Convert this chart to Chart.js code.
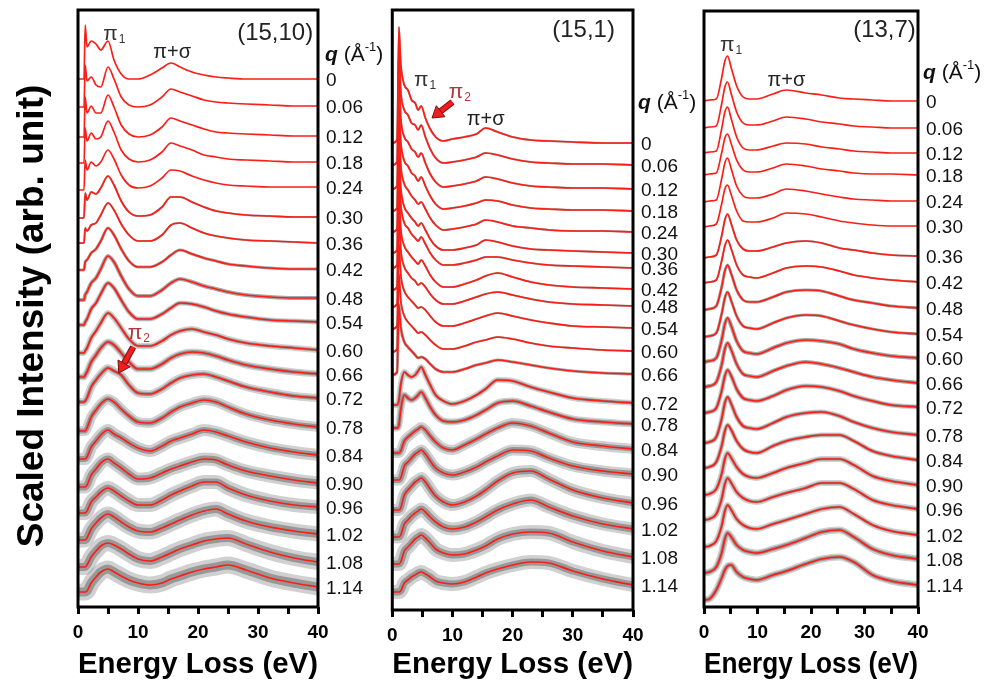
<!DOCTYPE html>
<html>
<head>
<meta charset="utf-8">
<script src="https://cdn.jsdelivr.net/npm/chart.js@4.4.0/dist/chart.umd.min.js"></script>
<style>
  body { margin: 0; background: #fff; width: 992px; height: 686px; overflow: hidden; position: relative; }
  canvas { position: absolute; top: 0; }
</style>
</head>
<body>
<canvas id="p1" width="390" height="686" style="left:0"></canvas>
<canvas id="p2" width="320" height="686" style="left:380px"></canvas>
<canvas id="p3" width="302" height="686" style="left:690px"></canvas>
<script>
// momentum transfer of each spectrum, top to bottom
const qLabels = ['0', '0.06', '0.12', '0.18', '0.24', '0.30', '0.36', '0.42', '0.48', '0.54',
                 '0.60', '0.66', '0.72', '0.78', '0.84', '0.90', '0.96', '1.02', '1.08', '1.14'];
const xTicks = [0, 10, 20, 30, 40];

// ---- (15,10) ----
const energy1 = [0, 1.0, 1.2, 1.5, 2.2, 3.0, 3.8, 5.0, 6.0, 7.2, 8.5, 10, 12, 14, 15.5, 17, 19, 21, 23, 25, 28, 32, 36, 40];
const offset1 = [528, 500, 470, 444, 417, 389, 364, 337, 307, 282, 254, 230, 205, 176, 148, 120, 94, 67, 40, 15];
const spectra1 = [
  [0,0,54,32,38,35,29,38,19,5,0,0,4,11,16,12,7,4,2,1,0,0,0,0],
  [0,0,42,26,30,22,20,40,28,10,2,0,2,10,18,15,11,7,5,4,3,2,1,1],
  [0,0,40,24,31,24,24,42,30,12,3,0,2,10,19,16,12,8,5,4,3,2,1,1],
  [0,0,35,22,30,24,26,42,31,13,4,1,3,11,20,17,13,8,6,4,3,2,1,1],
  [0,0,30,20,28,24,28,40,31,15,5,2,4,12,20,19,14,10,7,5,4,3,3,3],
  [0,0,25,18,26,24,30,42,33,17,6,2,3,11,21,21,16,11,7,5,3,2,1,1],
  [0,0,15,12,18,20,28,40,33,19,8,2,2,8,18,20,15,10,7,5,3,2,1,0],
  [0,0,8,10,17,21,29,42,35,21,9,3,3,8,15,20,16,12,9,6,4,2,1,1],
  [0,0,5,8,17,22,31,44,38,24,11,4,4,10,17,21,18,14,11,8,5,3,2,2],
  [0,0,3,6,16,22,31,42,37,25,13,6,6,11,17,22,21,18,14,11,8,5,4,3],
  [0,0,2,5,15,22,30,40,35,25,14,7,7,12,18,22,24,21,18,14,10,7,5,3],
  [0,0,2,5,15,22,29,35,32,24,15,8,8,13,19,23,25,24,21,17,12,8,5,3],
  [0,0,1,4,15,22,28,34,31,27,17,9,8,13,19,24,27,28,25,21,15,10,6,4],
  [0,0,0,3,14,21,27,32,29,22,15,9,8,13,19,24,28,31,29,24,17,11,7,4],
  [0,0,0,2,12,18,24,29,25,21,16,11,8,13,18,21,25,29,27,23,17,11,7,4],
  [0,0,0,2,12,18,24,28,24,19,13,8,9,14,18,21,25,28,27,22,16,11,7,4],
  [0,0,0,2,11,16,21,25,22,17,12,8,8,13,18,22,27,31,31,25,18,12,8,6],
  [0,0,0,2,11,17,22,26,23,18,13,9,8,12,16,20,25,29,31,26,19,13,9,6],
  [0,0,0,2,10,16,21,24,22,18,13,8,6,10,14,18,22,26,28,29,23,15,9,5],
  [0,0,0,1,9,15,20,23,20,16,12,9,7,9,13,16,20,23,25,27,22,14,9,5]
];
const noise1 = [0, 0, 0, 0, 0, 2, 2, 3, 4, 5, 6, 7, 8, 10, 12, 13, 14, 15, 16, 17];

// ---- (15,1) ----
const energy2 = [0, 0.8, 1.1, 1.4, 2.0, 2.6, 3.2, 3.8, 4.3, 4.8, 5.5, 6.3, 7.2, 8.5, 10, 12, 14, 15.5, 17.5, 20, 23, 26, 30, 35, 40];
const offset2 = [467, 445, 421, 399, 378, 357, 342, 320, 303, 281, 258, 235, 205, 182, 157, 130, 100, 73, 46, 18];
const spectra2 = [
  [0,3,116,80,58,53,43,40,33,37,25,14,6,2,4,6,9,15,11,6,3,2,1,0,0],
  [0,3,118,75,55,50,42,40,35,40,28,16,7,2,3,5,8,12,10,6,3,2,1,1,0],
  [0,3,112,72,52,47,40,37,32,36,26,15,7,2,3,5,8,12,10,6,3,2,1,1,0],
  [0,3,105,70,50,45,38,35,30,34,25,15,7,2,3,5,8,11,10,6,3,2,1,1,0],
  [0,3,108,68,48,42,36,32,28,30,23,14,7,2,3,5,8,12,10,6,4,2,1,1,0],
  [0,3,100,66,46,40,35,31,27,30,23,14,7,3,3,5,8,13,11,7,4,3,2,1,0],
  [0,3,95,64,45,40,34,30,27,31,24,15,8,3,3,5,8,11,11,8,5,3,2,1,0],
  [0,3,98,62,44,38,33,29,26,30,24,15,8,3,3,6,10,14,17,13,8,5,3,2,1],
  [0,3,90,58,40,34,29,26,22,24,20,13,7,3,3,6,10,13,15,12,8,5,3,2,1],
  [0,3,85,55,38,32,28,24,21,22,19,13,7,3,3,6,10,13,16,13,9,6,3,2,1],
  [0,3,78,52,36,30,26,22,19,20,17,12,7,3,3,6,10,12,15,13,9,6,4,2,1],
  [0,3,70,48,33,28,24,20,17,18,16,11,6,3,3,6,10,12,15,13,10,7,4,2,1],
  [0,0,5,20,33,30,28,30,34,38,30,20,10,4,1,4,10,16,25,24,18,13,7,4,2],
  [0,0,3,18,33,30,28,30,33,36,30,21,13,7,6,8,13,18,25,27,22,16,9,6,4],
  [0,0,0,2,12,16,19,22,24,26,23,17,11,5,3,8,14,19,25,30,27,20,11,7,4],
  [0,0,0,2,14,18,22,26,28,30,26,19,12,7,5,8,13,18,24,30,29,22,14,9,6],
  [0,0,0,2,15,20,24,28,30,32,28,21,14,8,5,8,14,20,29,37,39,31,20,12,7],
  [0,0,0,2,13,17,21,24,26,28,25,20,15,10,8,10,15,20,27,33,37,30,21,13,8],
  [0,0,0,2,13,17,21,25,27,29,26,21,15,11,9,10,14,18,25,30,32,31,22,13,7],
  [0,0,0,1,9,12,15,17,19,20,18,15,11,9,8,10,15,19,23,27,30,29,21,13,7]
];
const noise2 = [2, 2, 2, 2, 2, 2, 2, 2, 2, 2, 2, 3, 6, 7, 10, 11, 12, 13, 14, 14];

// ---- (13,7) ----
const energy3 = [0, 1.0, 2.3, 3.3, 3.9, 4.4, 5.1, 6.1, 7.3, 8.5, 9.8, 12.9, 15.4, 19, 22, 25.3, 28, 31.5, 35, 40];
const offset3 = [506, 479, 454, 432, 405, 380, 349, 324, 297, 270, 245, 220, 194, 164, 139, 112, 87, 60, 34, 7];
const spectra3 = [
  [0,1,2,23,40,45,33,15,4,2,2,7,11,8,6,3,2,1,0,0],
  [0,1,2,24,41,46,34,16,5,3,3,7,11,9,6,4,2,1,0,0],
  [0,1,2,24,41,46,34,16,5,3,3,7,10,9,6,4,2,1,0,0],
  [0,1,2,22,37,41,31,15,5,3,3,7,11,9,6,4,2,1,1,0],
  [0,1,2,23,39,44,33,16,6,4,4,8,13,11,8,5,3,2,1,1],
  [0,1,3,23,38,42,32,16,6,5,5,9,14,13,10,6,4,2,1,1],
  [0,1,3,22,38,44,34,18,9,7,7,11,15,17,15,10,8,5,3,2],
  [0,1,3,22,37,43,34,18,8,6,5,10,15,17,16,12,8,5,3,1],
  [0,1,4,23,39,45,36,20,10,8,8,13,18,20,19,14,10,7,4,2],
  [0,1,4,23,39,45,36,21,11,9,8,14,19,22,21,16,12,8,5,3],
  [0,1,4,22,38,44,36,21,11,9,8,14,19,22,21,18,13,9,6,4],
  [0,1,5,22,38,44,37,23,13,11,10,16,21,25,23,19,15,10,7,4],
  [0,1,5,22,37,43,37,24,15,13,12,17,23,27,26,22,17,12,8,6],
  [0,1,6,24,40,46,39,26,17,15,14,20,26,30,31,27,21,15,11,8],
  [0,1,6,22,37,43,38,27,19,16,15,22,27,31,33,33,27,17,12,8],
  [0,1,6,21,36,42,37,28,21,18,17,22,27,32,36,36,30,19,14,10],
  [0,1,6,21,36,42,37,28,22,19,18,23,27,32,37,37,31,20,15,11],
  [0,1,6,21,36,42,37,28,22,19,18,23,27,33,38,40,33,22,16,12],
  [0,1,6,20,34,40,36,28,23,21,20,24,28,35,41,43,36,24,18,14],
  [0,1,10,22,30,34,35,28,23,21,20,25,29,36,41,43,38,25,19,15]
];
const noise3 = [0, 0, 0, 0, 0, 0, 2, 2, 3, 3, 4, 4, 5, 5, 5, 6, 6, 6, 7, 7];

const FONT = 'Arial, "Liberation Sans", Helvetica, sans-serif';
const RED = 'rgb(250,30,22)';
const GRAY_CORE = 'rgba(128,128,128,0.7)';
const GRAY_EDGE = 'rgba(150,150,150,0.45)';
const DARKRED = '#b3343a';

// red smoothed spectrum over the grey measured band (denser near the middle)
function seriesSets(energy, offsets, curves, noise) {
  const sets = [];
  curves.forEach((c, i) => {
    const pts = () => c.map((v, k) => ({x: energy[k], y: offsets[i] + v}));
    const w = noise[i];
    if (w >= 5) {
      sets.push({data: pts(), borderColor: GRAY_EDGE, borderWidth: w, order: 3});
      sets.push({data: pts(), borderColor: GRAY_CORE, borderWidth: Math.round(w * 0.5), order: 2});
    } else if (w) {
      sets.push({data: pts(), borderColor: GRAY_CORE, borderWidth: w, order: 2});
    }
    sets.push({data: pts(), borderColor: RED, borderWidth: 1.7, order: 1});
  });
  return sets;
}

function drawPi(ctx, x, y, sub, color) {
  ctx.fillStyle = color || '#333';
  ctx.font = `21px ${FONT}`;
  ctx.fillText('π', x, y);
  const w = ctx.measureText('π').width;
  ctx.font = `12px ${FONT}`;
  ctx.fillText(sub, x + w + 1, y + 6);
}

function qHeader(ctx, x, y) {
  ctx.fillStyle = '#111';
  ctx.font = `italic bold 21px ${FONT}`;
  ctx.fillText('q', x, y);
  x += ctx.measureText('q').width;
  ctx.font = `21px ${FONT}`;
  ctx.fillText(' (Å', x, y);
  x += ctx.measureText(' (Å').width;
  ctx.font = `13px ${FONT}`;
  ctx.fillText('-1', x, y - 8);
  x += ctx.measureText('-1').width;
  ctx.font = `21px ${FONT}`;
  ctx.fillText(')', x, y);
}

function drawArrow(ctx, x1, y1, x2, y2) {
  const ang = Math.atan2(y2 - y1, x2 - x1);
  const head = 11, half = 7;
  const bx = x2 - head * Math.cos(ang), by = y2 - head * Math.sin(ang);
  ctx.strokeStyle = '#7a1010';
  ctx.lineWidth = 6.5;
  ctx.beginPath(); ctx.moveTo(x1, y1); ctx.lineTo(bx, by); ctx.stroke();
  ctx.strokeStyle = '#f01e1e';
  ctx.lineWidth = 4.5;
  ctx.beginPath(); ctx.moveTo(x1, y1); ctx.lineTo(bx, by); ctx.stroke();
  ctx.beginPath();
  ctx.moveTo(x2, y2);
  ctx.lineTo(bx + half * Math.sin(ang), by - half * Math.cos(ang));
  ctx.lineTo(bx - half * Math.sin(ang), by + half * Math.cos(ang));
  ctx.closePath();
  ctx.fillStyle = '#f01e1e';
  ctx.fill();
  ctx.strokeStyle = '#7a1010';
  ctx.lineWidth = 1;
  ctx.stroke();
}

function decor(p) {
  return {
    id: 'decor',
    afterDraw(chart) {
      const {ctx, chartArea: a} = chart;
      const X = e => chart.scales.x.getPixelForValue(e);
      const Y = v => chart.scales.y.getPixelForValue(v);
      ctx.save();
      ctx.lineWidth = 3;
      ctx.strokeStyle = '#000';
      ctx.strokeRect(a.left, a.top, a.right - a.left, a.bottom - a.top);

      ctx.textBaseline = 'middle';
      ctx.textAlign = 'left';
      ctx.fillStyle = '#111';
      ctx.font = `19px ${FONT}`;
      p.curves.forEach((c, i) => {
        ctx.fillText(qLabels[i], a.right + 8, Y(p.offsets[i] + c[c.length - 1]) + 2);
      });
      qHeader(ctx, a.right + p.qHead[0], Y(p.qHead[1]));

      p.notes.forEach(n => {
        ctx.textAlign = 'left';
        if (n.kind === 'text') {
          ctx.fillStyle = '#222';
          ctx.font = `${n.size}px ${FONT}`;
          ctx.textAlign = n.align;
          ctx.fillText(n.text, X(n.at[0]), Y(n.at[1]));
        } else if (n.kind === 'pi') {
          drawPi(ctx, X(n.at[0]), Y(n.at[1]), n.sub, n.color);
        } else if (n.kind === 'arrow') {
          drawArrow(ctx, X(n.from[0]), Y(n.from[1]), X(n.to[0]), Y(n.to[1]));
        }
      });

      if (p.yTitle) {
        ctx.translate(33, 316);
        ctx.rotate(-Math.PI / 2);
        ctx.textAlign = 'center';
        ctx.fillStyle = '#000';
        ctx.font = `bold 37px ${FONT}`;
        ctx.fillText(p.yTitle, 0, 0);
      }
      ctx.restore();
    }
  };
}

function makePanel(id, p) {
  new Chart(document.getElementById(id), {
    type: 'line',
    data: {datasets: seriesSets(p.energy, p.offsets, p.curves, p.noise)},
    options: {
      responsive: false,
      animation: false,
      events: [],
      layout: {padding: {left: p.pad[0], right: p.pad[1], top: p.pad[2], bottom: 0}},
      plugins: {legend: {display: false}, tooltip: {enabled: false}},
      elements: {
        point: {radius: 0},
        line: {cubicInterpolationMode: 'monotone', fill: false, borderJoinStyle: 'round', borderCapStyle: 'round'}
      },
      scales: {
        x: {
          type: 'linear', min: 0, max: 40,
          afterFit: s => { s.height = p.axisH; },
          border: {display: false},
          grid: {drawOnChartArea: false, drawTicks: true, tickLength: 7, tickWidth: 3, tickColor: '#000', color: '#000'},
          ticks: {
            stepSize: 5, autoSkip: false, maxRotation: 0, padding: 7, color: '#000',
            font: {family: FONT, size: 19, weight: 'bold'},
            callback: v => xTicks.includes(v) ? String(v) : ''
          },
          title: {
            display: true, text: 'Energy Loss (eV)', color: '#000',
            font: {family: FONT, size: 30, weight: 'bold'},
            padding: {top: 0, bottom: 3}
          }
        },
        y: {display: false, min: 0, max: p.height}
      }
    },
    plugins: [decor(p)]
  });
}

makePanel('p1', {
  energy: energy1, offsets: offset1, curves: spectra1, noise: noise1,
  pad: [78, 72, 10], axisH: 79, height: 597,
  qHead: [7, 552], yTitle: 'Scaled Intensity (arb. unit)',
  notes: [
    {kind: 'text', text: '(15,10)', at: [39.2, 574], align: 'right', size: 24},
    {kind: 'pi', sub: '1', at: [4.2, 573]},
    {kind: 'text', text: 'π+σ', at: [15.7, 555], align: 'center', size: 20},
    {kind: 'pi', sub: '2', at: [8.3, 274], color: DARKRED},
    {kind: 'arrow', from: [9.2, 260], to: [6.8, 234]}
  ]
});

makePanel('p2', {
  energy: energy2, offsets: offset2, curves: spectra2, noise: noise2,
  pad: [11, 67, 10], axisH: 76, height: 600,
  qHead: [5, 507],
  notes: [
    {kind: 'text', text: '(15,1)', at: [37.0, 580], align: 'right', size: 24},
    {kind: 'pi', sub: '1', at: [3.6, 530]},
    {kind: 'pi', sub: '2', at: [9.4, 518], color: DARKRED},
    {kind: 'arrow', from: [10.0, 508], to: [6.6, 492]},
    {kind: 'text', text: 'π+σ', at: [15.5, 491], align: 'center', size: 20}
  ]
});

makePanel('p3', {
  energy: energy3, offsets: offset3, curves: spectra3, noise: noise3,
  pad: [14, 74, 11], axisH: 79, height: 596,
  qHead: [5, 534],
  notes: [
    {kind: 'text', text: '(13,7)', at: [39.6, 577], align: 'right', size: 24},
    {kind: 'pi', sub: '1', at: [3.0, 562]},
    {kind: 'text', text: 'π+σ', at: [15.4, 527], align: 'center', size: 20}
  ]
});
</script>
</body>
</html>
